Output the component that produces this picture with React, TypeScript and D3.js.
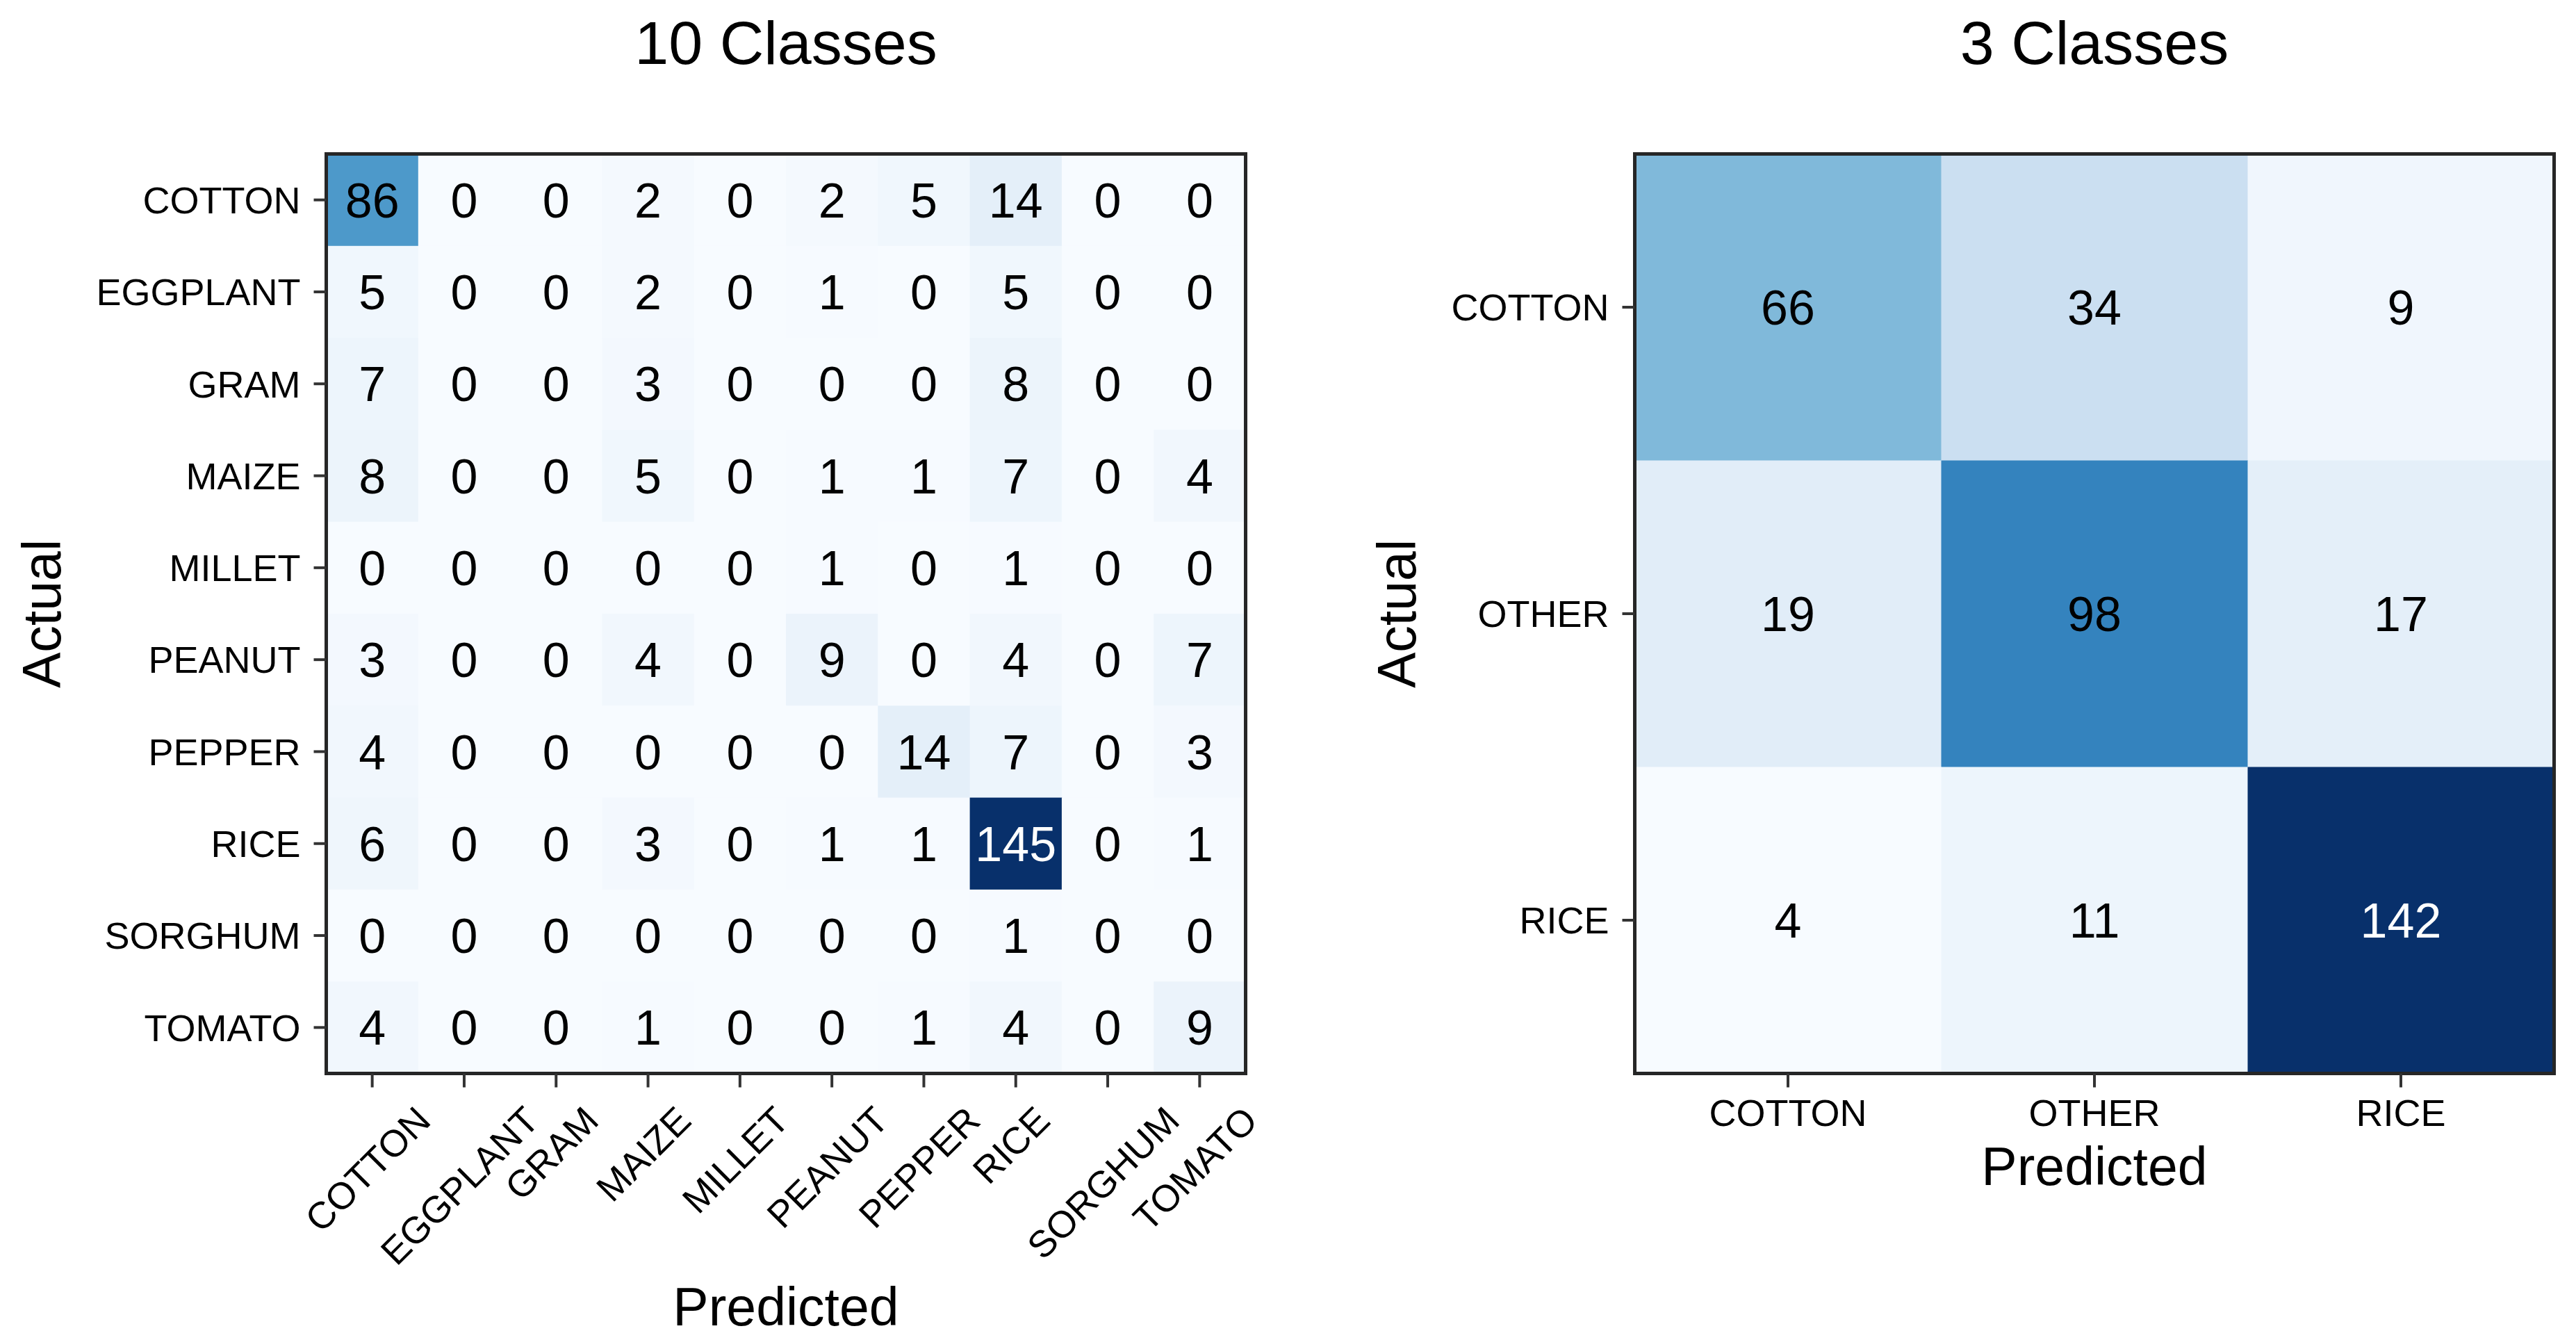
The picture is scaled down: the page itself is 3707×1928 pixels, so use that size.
import React, { useEffect, useRef } from "react";
import * as d3 from "d3";

const classes10 = ["COTTON", "EGGPLANT", "GRAM", "MAIZE", "MILLET", "PEANUT", "PEPPER", "RICE", "SORGHUM", "TOMATO"];
const matrix10 = [
  [86, 0, 0, 2, 0, 2, 5, 14, 0, 0],
  [5, 0, 0, 2, 0, 1, 0, 5, 0, 0],
  [7, 0, 0, 3, 0, 0, 0, 8, 0, 0],
  [8, 0, 0, 5, 0, 1, 1, 7, 0, 4],
  [0, 0, 0, 0, 0, 1, 0, 1, 0, 0],
  [3, 0, 0, 4, 0, 9, 0, 4, 0, 7],
  [4, 0, 0, 0, 0, 0, 14, 7, 0, 3],
  [6, 0, 0, 3, 0, 1, 1, 145, 0, 1],
  [0, 0, 0, 0, 0, 0, 0, 1, 0, 0],
  [4, 0, 0, 1, 0, 0, 1, 4, 0, 9],
];
const classes3 = ["COTTON", "OTHER", "RICE"];
const matrix3 = [
  [66, 34, 9],
  [19, 98, 17],
  [4, 11, 142],
];
const titles = ["10 Classes", "3 Classes"];
const xLabel = "Predicted";
const yLabel = "Actual";

const W = 3707;
const H = 1928;
const FONT = "'Liberation Sans', Arial, Helvetica, sans-serif";

export default function App() {
  const ref = useRef<SVGSVGElement | null>(null);

  useEffect(() => {
    const svg = d3.select(ref.current);
    svg.selectAll("*").remove();

    const size = 1323;
    const top = 221.5;
    const tickLen = 18;
    const tickFs = 54;
    const capRatio = 0.716;

    const drawPanel = (
      x0: number,
      labels: string[],
      data: number[][],
      title: string,
      rotated: boolean,
      yLabelX: number,
      xLabelY: number
    ) => {
      const g = svg.append("g");
      const xs = d3.scaleBand<string>().domain(labels).range([x0, x0 + size]).padding(0);
      const ys = d3.scaleBand<string>().domain(labels).range([top, top + size]).padding(0);
      const flat = data.flat();
      const vmin = d3.min(flat) as number;
      const vmax = d3.max(flat) as number;
      const color = d3.scaleSequential(d3.interpolateBlues).domain([vmin, vmax]);

      const cells = data.flatMap((row, i) => row.map((v, j) => ({ r: labels[i], c: labels[j], v })));

      g.selectAll("rect.cell")
        .data(cells)
        .enter()
        .append("rect")
        .attr("x", (d) => xs(d.c) as number)
        .attr("y", (d) => ys(d.r) as number)
        .attr("width", xs.bandwidth() + 0.5)
        .attr("height", ys.bandwidth() + 0.5)
        .attr("fill", (d) => color(d.v));

      g.selectAll("text.val")
        .data(cells)
        .enter()
        .append("text")
        .attr("x", (d) => (xs(d.c) as number) + xs.bandwidth() / 2)
        .attr("y", (d) => (ys(d.r) as number) + ys.bandwidth() / 2)
        .attr("dy", "0.358em")
        .attr("text-anchor", "middle")
        .attr("font-family", FONT)
        .attr("font-size", 70)
        .attr("fill", (d) => (d.v > vmax * 0.75 ? "#ffffff" : "#000000"))
        .text((d) => String(d.v));

      // frame
      g.append("rect")
        .attr("x", x0)
        .attr("y", top)
        .attr("width", size)
        .attr("height", size)
        .attr("fill", "none")
        .attr("stroke", "#262626")
        .attr("stroke-width", 5);

      // y ticks
      labels.forEach((lab) => {
        const y = (ys(lab) as number) + ys.bandwidth() / 2;
        g.append("line")
          .attr("x1", x0 - tickLen)
          .attr("x2", x0)
          .attr("y1", y)
          .attr("y2", y)
          .attr("stroke", "#333")
          .attr("stroke-width", 4);
        g.append("text")
          .attr("x", x0 - 37)
          .attr("y", y)
          .attr("dy", "0.358em")
          .attr("text-anchor", "end")
          .attr("font-family", FONT)
          .attr("font-size", tickFs)
          .attr("fill", "#000")
          .text(lab);
      });

      // x ticks
      labels.forEach((lab) => {
        const x = (xs(lab) as number) + xs.bandwidth() / 2;
        g.append("line")
          .attr("x1", x)
          .attr("x2", x)
          .attr("y1", top + size)
          .attr("y2", top + size + tickLen + 2)
          .attr("stroke", "#333")
          .attr("stroke-width", 4);
        if (rotated) {
          const t = g
            .append("text")
            .attr("text-anchor", "middle")
            .attr("dy", "0.358em")
            .attr("font-family", FONT)
            .attr("font-size", tickFs)
            .attr("fill", "#000")
            .text(lab);
          const w = (t.node() as SVGTextElement).getComputedTextLength();
          const D = (w + tickFs * capRatio) / Math.SQRT2;
          const cx = x - 7;
          const cy = 1588 + D / 2;
          t.attr("transform", `translate(${cx},${cy}) rotate(-45)`);
        } else {
          g.append("text")
            .attr("x", x)
            .attr("y", 1620)
            .attr("text-anchor", "middle")
            .attr("font-family", FONT)
            .attr("font-size", tickFs)
            .attr("fill", "#000")
            .text(lab);
        }
      });

      // title
      g.append("text")
        .attr("x", x0 + size / 2)
        .attr("y", 92)
        .attr("text-anchor", "middle")
        .attr("font-family", FONT)
        .attr("font-size", 88)
        .attr("fill", "#000")
        .text(title);

      // x label
      g.append("text")
        .attr("x", x0 + size / 2)
        .attr("y", xLabelY)
        .attr("text-anchor", "middle")
        .attr("font-family", FONT)
        .attr("font-size", 77)
        .attr("fill", "#000")
        .text(xLabel);

      // y label
      g.append("text")
        .attr("transform", `translate(${yLabelX},${top + size / 2}) rotate(-90)`)
        .attr("text-anchor", "middle")
        .attr("font-family", FONT)
        .attr("font-size", 77)
        .attr("fill", "#000")
        .text(yLabel);
    };

    drawPanel(469.5, classes10, matrix10, titles[0], true, 87, 1907);
    drawPanel(2352.5, classes3, matrix3, titles[1], false, 2037, 1705);
  }, []);

  return (
    <svg
      ref={ref}
      width={W}
      height={H}
      viewBox={`0 0 ${W} ${H}`}
      style={{ position: "absolute", left: 0, top: 0, display: "block", background: "#fff" }}
    />
  );
}
